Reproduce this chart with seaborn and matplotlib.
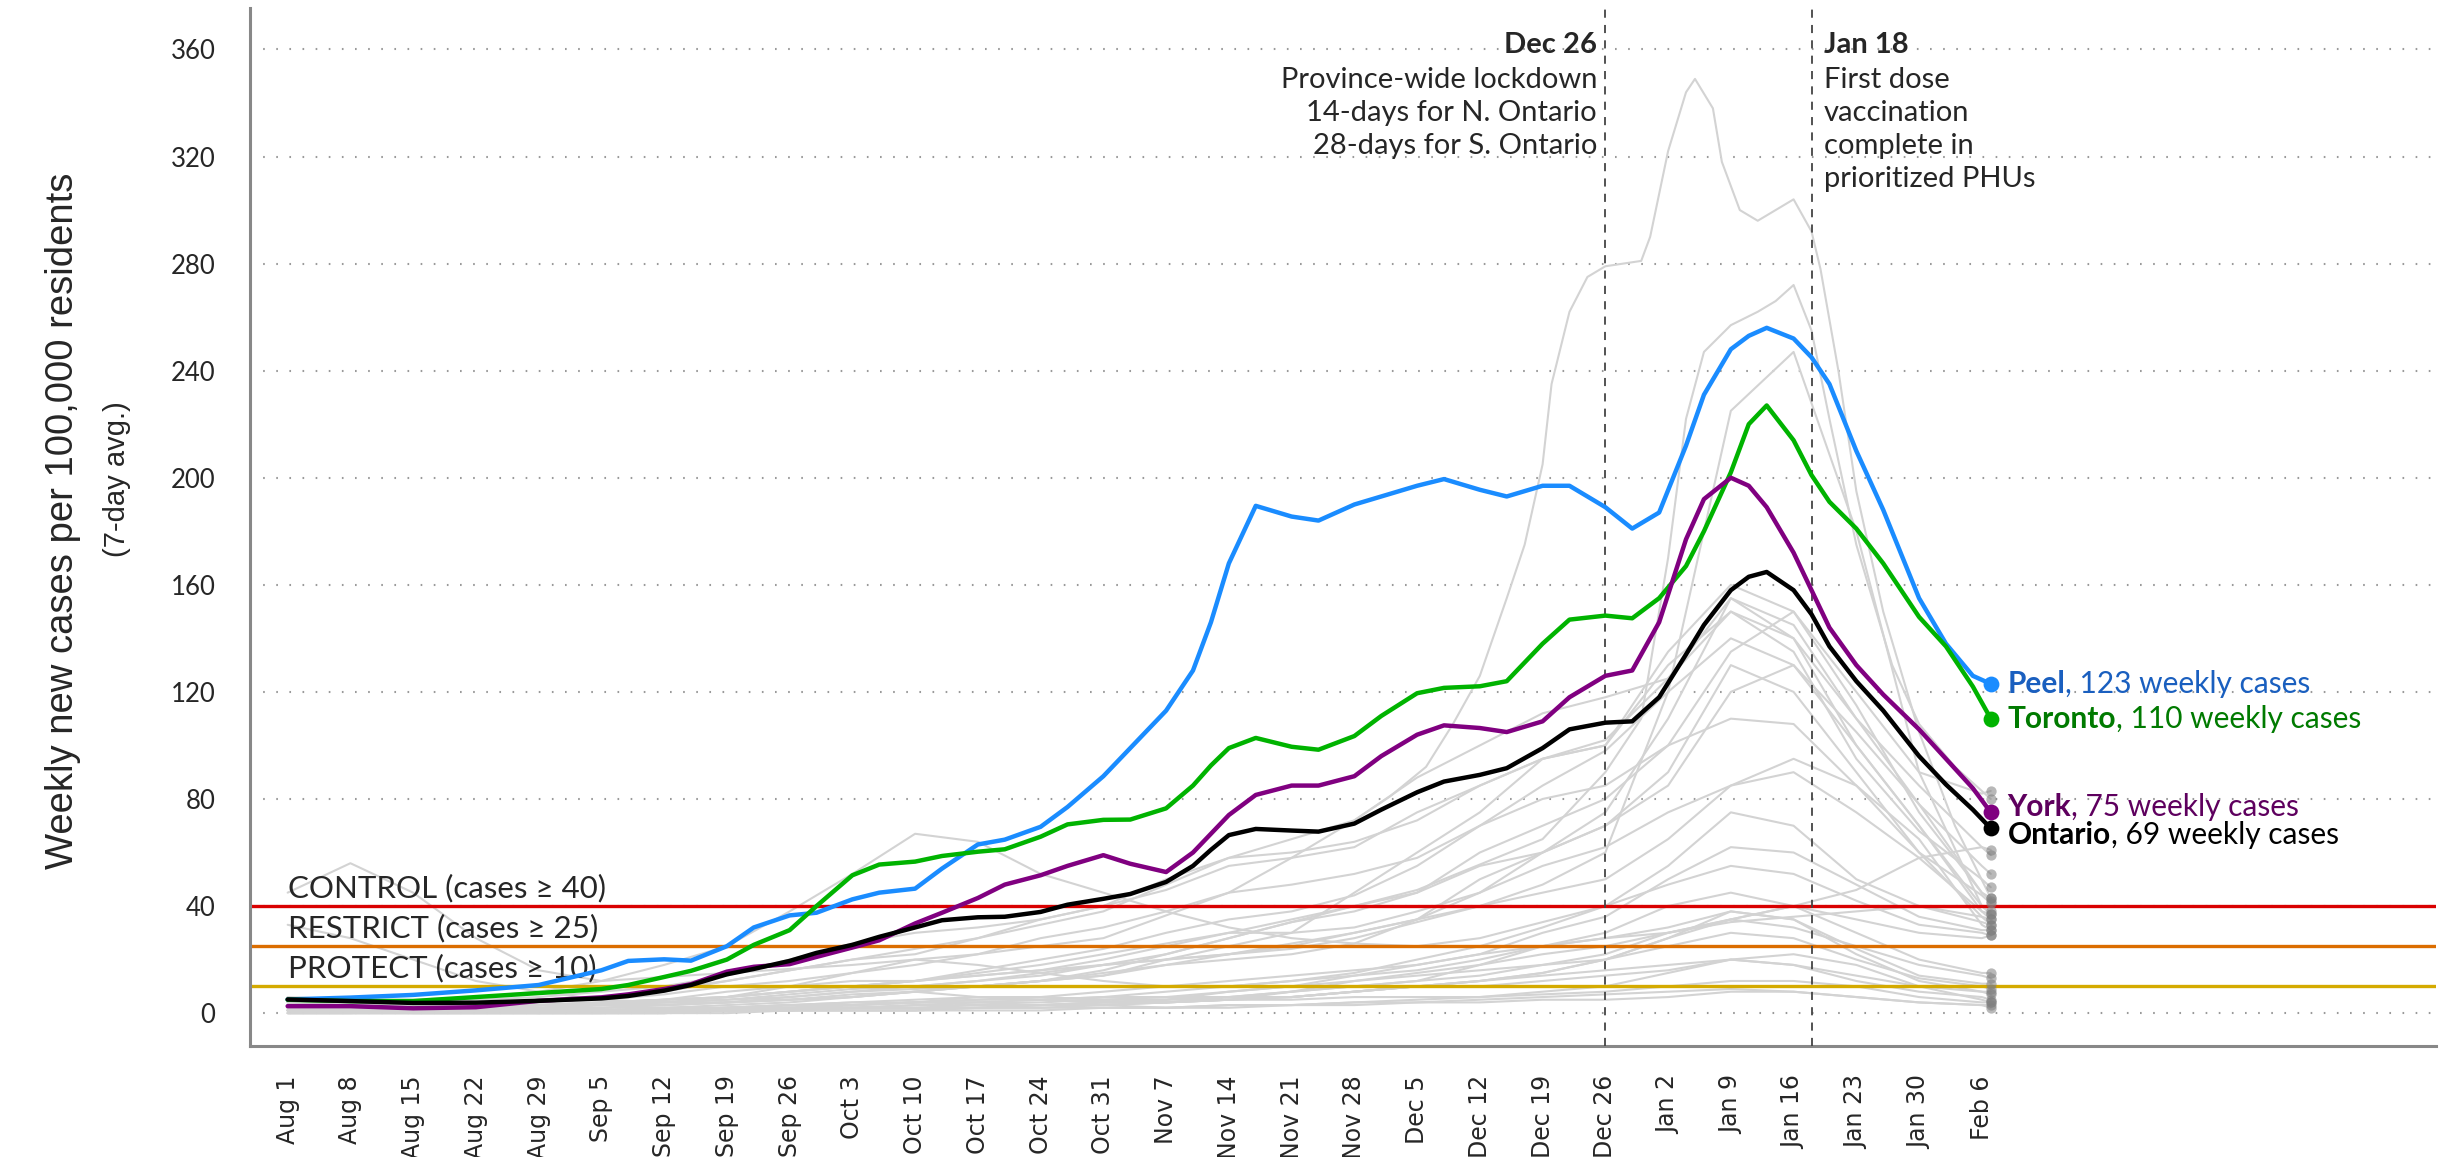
import pandas as pd
import matplotlib
matplotlib.use('Agg')
import matplotlib.pyplot as plt
import matplotlib.dates as mdates
import seaborn as sns


# ---- highlighted regions (7-day avg weekly cases per 100k) ----
main_dates = ["2020-08-01", "2020-08-08", "2020-08-15", "2020-08-22", "2020-08-29",
              "2020-09-05", "2020-09-08", "2020-09-12", "2020-09-15", "2020-09-19",
              "2020-09-22", "2020-09-26", "2020-09-29", "2020-10-03", "2020-10-06",
              "2020-10-10", "2020-10-13", "2020-10-17", "2020-10-20", "2020-10-24",
              "2020-10-27", "2020-10-31", "2020-11-03", "2020-11-07", "2020-11-10",
              "2020-11-12", "2020-11-14", "2020-11-17", "2020-11-21", "2020-11-24",
              "2020-11-28", "2020-12-01", "2020-12-05", "2020-12-08", "2020-12-12",
              "2020-12-15", "2020-12-19", "2020-12-22", "2020-12-26", "2020-12-29",
              "2021-01-01", "2021-01-04", "2021-01-06", "2021-01-09", "2021-01-11",
              "2021-01-13", "2021-01-16", "2021-01-18", "2021-01-20", "2021-01-23",
              "2021-01-26", "2021-01-30", "2021-02-02", "2021-02-05", "2021-02-07"]

peel = [5.1, 5.8, 6.8, 8.5, 10.5, 16, 19.5, 20.1, 19.6, 25, 32, 36.5, 37.5, 42.5, 45,
        46.5, 54, 63, 64.8, 69.6, 77, 88.5, 99, 113, 128, 146, 168, 189.5, 185.5, 184,
        190, 193, 197, 199.5, 195.5, 193, 197, 197, 189, 181, 187, 212, 231, 248, 253,
        256, 252, 245, 235, 210, 188, 155, 138, 126, 123]
toronto = [5, 4.5, 4.5, 6, 7.5, 9, 10.5, 13.5, 15.8, 20, 25.5, 31, 40, 51.5, 55.5,
           56.6, 58.7, 60.3, 61.2, 65.9, 70.5, 72.2, 72.3, 76.5, 85, 92.5, 99, 102.8, 99.5, 98.4,
           103.5, 111, 119.5, 121.5, 122.1, 124, 138, 147, 148.5, 147.5, 155, 167, 180, 202, 220,
           227, 214, 201, 191, 181, 168, 148, 137, 122, 110]
york = [2.6, 2.6, 1.8, 2.2, 4.6, 5.9, 7, 9, 10.8, 15.5, 17.3, 18.3, 21, 24.5, 27.2,
        33.5, 37.5, 43, 48, 51.5, 55, 59, 55.8, 52.7, 60, 67, 74, 81.5, 85, 85,
        88.5, 96, 104, 107.5, 106.5, 105, 109, 118, 126, 128, 146, 177, 192, 200, 197,
        189, 172, 158, 144, 130, 119, 106, 95, 84, 75]
ontario = [5.1, 4.5, 3.8, 3.9, 4.6, 5.5, 6.4, 8.4, 10.5, 14.5, 16.5, 19.5, 22.5, 25.5, 28.5,
           32, 34.7, 35.8, 36, 37.8, 40.5, 42.7, 44.5, 49, 55, 61, 66.5, 68.8, 68.2, 67.8,
           70.8, 76, 82.5, 86.5, 89, 91.5, 99, 106, 108.5, 109, 118, 134, 145, 158, 163,
           164.8, 158, 149, 137, 124, 113, 96, 85.4, 76, 69]

regions = ['Peel', 'Toronto', 'York', 'Ontario']
weekly_cases = ['123', '110', '75', '69']
line_colors = {'Peel': '#1a8cff', 'Toronto': '#00b300', 'York': '#800080', 'Ontario': '#000000'}
text_colors = {'Peel': '#1a5fbf', 'Toronto': '#007a00', 'York': '#5e005e', 'Ontario': '#000000'}

# ---- other public health units (grey), weekly readings Aug 1 .. Feb 6 + Feb 7 ----
grey_dates = list(pd.date_range('2020-08-01', '2021-02-06', freq='7D')) + [pd.Timestamp('2021-02-07')]

ottawa = [4, 5, 5, 6, 8, 12, 18, 25, 38, 52, 67, 64, 52, 45, 38, 32, 28, 26, 25, 28, 34, 40, 48, 55, 52, 42, 33, 30, 29]
halton = [3, 3, 4, 5, 6, 8, 10, 14, 20, 26, 30, 32, 35, 40, 50, 58, 60, 64, 72, 85, 95, 102, 125, 150, 135, 95, 68, 50, 47]
hamilton = [3, 3, 3, 3, 4, 6, 9, 12, 16, 20, 22, 28, 33, 38, 48, 58, 65, 72, 88, 100, 112, 118, 125, 155, 145, 110, 78, 55, 52]
durham = [4, 3, 3, 3, 4, 6, 8, 12, 16, 20, 24, 28, 35, 40, 46, 55, 58, 62, 75, 85, 95, 100, 130, 150, 140, 110, 85, 62, 59]
waterloo = [3, 3, 3, 4, 4, 5, 7, 10, 12, 15, 18, 22, 28, 32, 38, 45, 48, 52, 58, 70, 80, 85, 100, 110, 108, 85, 60, 44, 41]
niagara = [4, 4, 3, 3, 3, 4, 5, 6, 8, 10, 12, 16, 20, 24, 30, 35, 38, 44, 55, 70, 85, 98, 120, 140, 130, 105, 78, 45, 42]
middlesex = [2, 2, 2, 2, 2, 3, 5, 8, 10, 12, 12, 14, 16, 20, 25, 30, 35, 40, 45, 60, 70, 80, 100, 135, 150, 115, 75, 45, 43]
simcoe = [3, 3, 2, 2, 3, 4, 5, 6, 8, 10, 12, 15, 18, 22, 26, 30, 30, 32, 38, 45, 55, 62, 75, 85, 90, 75, 58, 38, 37]
chatham = [33, 28, 20, 12, 8, 5, 4, 4, 5, 6, 8, 10, 12, 14, 20, 25, 30, 45, 60, 75, 95, 100, 135, 160, 150, 120, 90, 82, 83]
southwestern = [1, 1, 1, 1, 2, 2, 3, 4, 5, 6, 8, 10, 12, 15, 18, 20, 22, 26, 35, 50, 60, 70, 90, 130, 120, 90, 60, 36, 33]
brant = [2, 2, 2, 2, 2, 3, 3, 4, 6, 8, 9, 10, 12, 16, 22, 28, 34, 38, 45, 55, 60, 70, 85, 120, 130, 100, 70, 38, 35]
wellington = [2, 2, 2, 2, 3, 3, 4, 5, 7, 9, 10, 12, 15, 18, 20, 22, 24, 28, 34, 40, 45, 50, 65, 85, 95, 85, 65, 33, 31]
haldimand = [2, 2, 2, 2, 2, 2, 3, 4, 5, 7, 8, 10, 12, 14, 18, 22, 26, 30, 35, 45, 60, 75, 110, 155, 140, 100, 70, 40, 38]
eastern = [6, 5, 4, 3, 3, 3, 4, 6, 10, 15, 20, 18, 15, 12, 10, 10, 12, 15, 20, 25, 32, 40, 55, 75, 70, 50, 40, 34, 33]
kfla = [1, 1, 1, 1, 1, 1, 1, 2, 3, 4, 5, 6, 6, 5, 5, 6, 8, 10, 12, 18, 25, 30, 40, 45, 40, 30, 20, 15, 15]
leeds = [1, 1, 1, 1, 1, 1, 2, 3, 4, 6, 8, 6, 5, 4, 4, 5, 8, 10, 12, 14, 18, 20, 28, 35, 40, 35, 30, 28, 29]
hastings = [1, 1, 1, 1, 1, 1, 1, 1, 2, 3, 4, 4, 4, 5, 6, 6, 6, 8, 10, 12, 15, 20, 25, 30, 28, 20, 13, 10, 9]
peterborough = [1, 1, 1, 1, 1, 1, 1, 2, 2, 3, 4, 6, 6, 5, 5, 6, 6, 8, 10, 12, 15, 20, 28, 38, 35, 24, 14, 11, 11]
haliburton = [1, 1, 1, 1, 1, 2, 2, 2, 3, 4, 4, 5, 5, 6, 8, 10, 12, 14, 16, 20, 25, 28, 32, 38, 35, 22, 12, 8, 7]
renfrew = [0, 0, 1, 1, 1, 1, 1, 2, 3, 3, 4, 4, 3, 3, 2, 2, 3, 4, 5, 6, 8, 10, 15, 20, 18, 12, 8, 6, 5]
grey_bruce = [1, 1, 1, 1, 1, 1, 1, 1, 2, 2, 3, 4, 5, 6, 6, 8, 10, 12, 14, 16, 18, 22, 30, 35, 32, 25, 18, 14, 13]
huron_perth = [1, 1, 1, 1, 1, 1, 2, 2, 3, 3, 4, 5, 6, 8, 10, 12, 14, 16, 18, 22, 30, 36, 50, 62, 60, 48, 36, 31, 31]
algoma = [0, 0, 0, 0, 0, 0, 0, 1, 1, 1, 1, 1, 1, 2, 2, 3, 3, 4, 4, 5, 6, 7, 8, 9, 8, 6, 4, 3, 3]
north_bay = [1, 1, 1, 1, 0, 0, 0, 1, 1, 2, 2, 2, 3, 3, 4, 5, 5, 6, 6, 6, 7, 8, 10, 12, 12, 10, 6, 4, 4]
porcupine = [1, 1, 0, 0, 0, 1, 1, 1, 2, 2, 3, 3, 3, 4, 4, 5, 6, 8, 10, 12, 14, 16, 18, 20, 22, 18, 10, 5, 4]
sudbury = [0, 0, 0, 0, 0, 0, 1, 1, 1, 2, 2, 3, 3, 4, 4, 5, 6, 8, 10, 10, 12, 14, 16, 20, 18, 14, 10, 8, 8]
thunder_bay = [1, 1, 1, 1, 1, 1, 1, 2, 2, 2, 2, 2, 3, 4, 5, 8, 10, 14, 18, 22, 25, 28, 30, 34, 36, 38, 40, 36, 35]
timiskaming = [0, 0, 0, 0, 0, 0, 0, 0, 1, 1, 1, 2, 2, 2, 2, 3, 3, 3, 4, 4, 5, 5, 6, 8, 8, 6, 4, 3, 2]
northwestern = [0, 0, 0, 0, 0, 0, 0, 1, 1, 1, 1, 2, 2, 3, 4, 6, 8, 12, 15, 18, 22, 25, 30, 35, 40, 46, 58, 62, 61]
southeast = [2, 2, 2, 2, 3, 4, 5, 6, 8, 10, 12, 14, 16, 18, 20, 22, 25, 30, 35, 40, 48, 60, 120, 225, 247, 180, 90, 40, 37]

# two grey units with sharper peaks, read on their own dates
windsor_dates = ["2020-08-01", "2020-08-08", "2020-08-15", "2020-08-22", "2020-08-29", "2020-09-05",
                 "2020-09-19", "2020-10-03", "2020-10-17", "2020-10-31", "2020-11-14", "2020-11-21",
                 "2020-11-28", "2020-12-02", "2020-12-06", "2020-12-09", "2020-12-12", "2020-12-15",
                 "2020-12-17", "2020-12-19", "2020-12-20", "2020-12-22", "2020-12-24", "2020-12-26",
                 "2020-12-30", "2020-12-31", "2021-01-02", "2021-01-04", "2021-01-05", "2021-01-07",
                 "2021-01-08", "2021-01-10", "2021-01-12", "2021-01-14", "2021-01-16", "2021-01-18",
                 "2021-01-19", "2021-01-21", "2021-01-23", "2021-01-26", "2021-01-30", "2021-02-03",
                 "2021-02-07"]
windsor = [45, 56, 45, 28, 16, 12, 15, 18, 22, 28, 45, 58, 72, 81, 92, 108, 126, 155, 175, 205, 235,
           262, 275, 279, 281, 290, 322, 344, 349, 338, 318, 300, 296, 300, 304, 292, 278, 240, 195,
           150, 105, 70, 43]

lambton_dates = ["2020-08-01", "2020-08-15", "2020-08-29", "2020-09-12", "2020-09-26", "2020-10-10",
                 "2020-10-24", "2020-11-07", "2020-11-21", "2020-12-05", "2020-12-19", "2020-12-26",
                 "2020-12-30", "2021-01-02", "2021-01-04", "2021-01-06", "2021-01-09", "2021-01-12",
                 "2021-01-14", "2021-01-16", "2021-01-18", "2021-01-20", "2021-01-23", "2021-01-27",
                 "2021-01-30", "2021-02-03", "2021-02-07"]
lambton = [2, 2, 3, 4, 6, 10, 14, 22, 34, 46, 65, 90, 110, 170, 222, 247, 257, 262, 266, 272, 255,
           222, 175, 130, 108, 92, 80]

grey_weekly = {
    'Ottawa': ottawa, 'Halton': halton, 'Hamilton': hamilton, 'Durham': durham,
    'Waterloo': waterloo, 'Niagara': niagara, 'Middlesex': middlesex, 'Simcoe': simcoe,
    'Chatham': chatham, 'Southwestern': southwestern, 'Brant': brant, 'Wellington': wellington,
    'Haldimand': haldimand, 'Eastern': eastern, 'KFLA': kfla, 'Leeds': leeds,
    'Hastings': hastings, 'Peterborough': peterborough, 'Haliburton': haliburton,
    'Renfrew': renfrew, 'Grey Bruce': grey_bruce, 'Huron Perth': huron_perth,
    'Algoma': algoma, 'North Bay': north_bay, 'Porcupine': porcupine, 'Sudbury': sudbury,
    'Thunder Bay': thunder_bay, 'Timiskaming': timiskaming, 'Northwestern': northwestern,
    'Southeast': southeast,
}

# thresholds
thresholds = [40, 25, 10]
threshold_labels = ['CONTROL (cases \u2265 40)', 'RESTRICT (cases \u2265 25)', 'PROTECT (cases \u2265 10)']
threshold_colors = ['#d90000', '#db6d00', '#d4aa00']

# events
events = [('2020-12-26', 'Dec 26', ['Province-wide lockdown', '14-days for N. Ontario', '28-days for S. Ontario'], 'right'),
          ('2021-01-18', 'Jan 18', ['First dose', 'vaccination', 'complete in', 'prioritized PHUs'], 'left')]


# ---- build long frames ----
grey_frames = [pd.DataFrame({'date': grey_dates, 'value': v, 'phu': k}) for k, v in grey_weekly.items()]
grey_frames.append(pd.DataFrame({'date': pd.to_datetime(windsor_dates), 'value': windsor, 'phu': 'Windsor'}))
grey_frames.append(pd.DataFrame({'date': pd.to_datetime(lambton_dates), 'value': lambton, 'phu': 'Lambton'}))
grey_df = pd.concat(grey_frames, ignore_index=True)

main_df = pd.concat([
    pd.DataFrame({'date': pd.to_datetime(main_dates), 'value': peel, 'region': 'Peel'}),
    pd.DataFrame({'date': pd.to_datetime(main_dates), 'value': toronto, 'region': 'Toronto'}),
    pd.DataFrame({'date': pd.to_datetime(main_dates), 'value': york, 'region': 'York'}),
    pd.DataFrame({'date': pd.to_datetime(main_dates), 'value': ontario, 'region': 'Ontario'})],
    ignore_index=True)


# ---- plotting ----
sns.set_style('white')
plt.rcParams['font.family'] = ['Lato', 'DejaVu Sans']

fig = plt.figure(figsize=(24.51, 11.57), dpi=100)
ax = fig.add_axes([0.102, 0.0959, 0.892, 0.897])

sns.lineplot(data=grey_df, x='date', y='value', units='phu', estimator=None,
             color='#d3d3d3', linewidth=1.5, ax=ax, zorder=2)

for y, c in zip(thresholds, threshold_colors):
    ax.axhline(y, color=c, linewidth=2.4, zorder=2.5)

sns.lineplot(data=main_df, x='date', y='value', hue='region', hue_order=regions,
             palette=line_colors, linewidth=3.2, legend=False, ax=ax, zorder=4)

# end points
last_grey = grey_df.sort_values('date').groupby('phu').tail(1)
ax.scatter(last_grey['date'], last_grey['value'], s=55, color='#7f7f7f', alpha=0.55,
           linewidths=0, zorder=3)
last_main = main_df.sort_values('date').groupby('region').tail(1).set_index('region')
label_shift = {'Peel': 0, 'Toronto': 0, 'York': 4, 'Ontario': -5}
for reg, wk in zip(regions, weekly_cases):
    d, v = last_main.loc[reg, 'date'], last_main.loc[reg, 'value']
    ax.scatter([d], [v], s=130, color=line_colors[reg], zorder=5, linewidths=0)
    name = ax.annotate(reg, xy=(d, v), xytext=(12, label_shift[reg]), textcoords='offset points',
                       ha='left', va='center', fontsize=21.5, fontweight='bold', color=text_colors[reg])
    ax.annotate(', ' + wk + ' weekly cases', xy=(1, 0), xycoords=name, ha='left', va='bottom',
                fontsize=21.5, color=text_colors[reg])

# threshold labels
for y, lab in zip(thresholds, threshold_labels):
    ax.annotate(lab, xy=(pd.Timestamp('2020-08-01'), y), xytext=(0, 2.5), textcoords='offset points',
                ha='left', va='bottom', fontsize=22.5)

# event lines and notes
for date, head, body, side in events:
    dt = pd.Timestamp(date)
    ax.axvline(dt, color='#444444', linewidth=1.3, linestyle=(0, (4.5, 4)), zorder=3)
    dx = -6 if side == 'right' else 9
    ax.annotate(head, xy=(dt, 361.5), xytext=(dx, 0), textcoords='offset points',
                ha=side, va='center', fontsize=21, fontweight='bold')
    for i, line in enumerate(body):
        ax.annotate(line, xy=(dt, 348.5 - 12.3 * i), xytext=(dx, 0), textcoords='offset points',
                    ha=side, va='center', fontsize=21)

# axes
start = mdates.date2num(pd.Timestamp('2020-08-01'))
ax.set_xlim(start - 4.2, start + 239.7)
ax.set_ylim(-12.3, 375.4)

ax.set_yticks(range(0, 361, 40))
major = pd.date_range('2020-08-01', '2021-02-06', freq='7D')
ax.set_xticks(mdates.date2num(major))
ax.set_xticklabels([d.strftime('%b ') + str(d.day) for d in major], rotation=90,
                   fontfamily='DejaVu Sans')
ax.set_xticks(mdates.date2num(pd.date_range('2020-08-01', '2021-02-07', freq='D')), minor=True)

ax.tick_params(axis='y', which='major', length=16, width=2.2, color='#888888', labelsize=18.5, pad=9)
ax.tick_params(axis='x', which='major', length=15, width=2.2, color='#888888', labelsize=17, pad=6)
ax.tick_params(axis='x', which='minor', length=8, width=1, color='#aaaaaa')

ax.grid(axis='y', color='#9a9a9a', linestyle=(0, (0.8, 5.5)), linewidth=1.5)
ax.grid(axis='x', visible=False)
ax.set_axisbelow(True)

for s in ['top', 'right']:
    ax.spines[s].set_visible(False)
for s in ['left', 'bottom']:
    ax.spines[s].set_color('#888888')
    ax.spines[s].set_linewidth(2.2)

ax.set_xlabel('')
ax.set_ylabel('')
fig.text(0.0255, 0.55, 'Weekly new cases per 100,000 residents', rotation=90, ha='center',
         va='center', fontsize=27.5, family='Liberation Sans')
fig.text(0.0478, 0.586, '(7-day avg.)', rotation=90, ha='center', va='center', fontsize=21,
         family='Liberation Sans')

fig.savefig('out.png', dpi=100)
